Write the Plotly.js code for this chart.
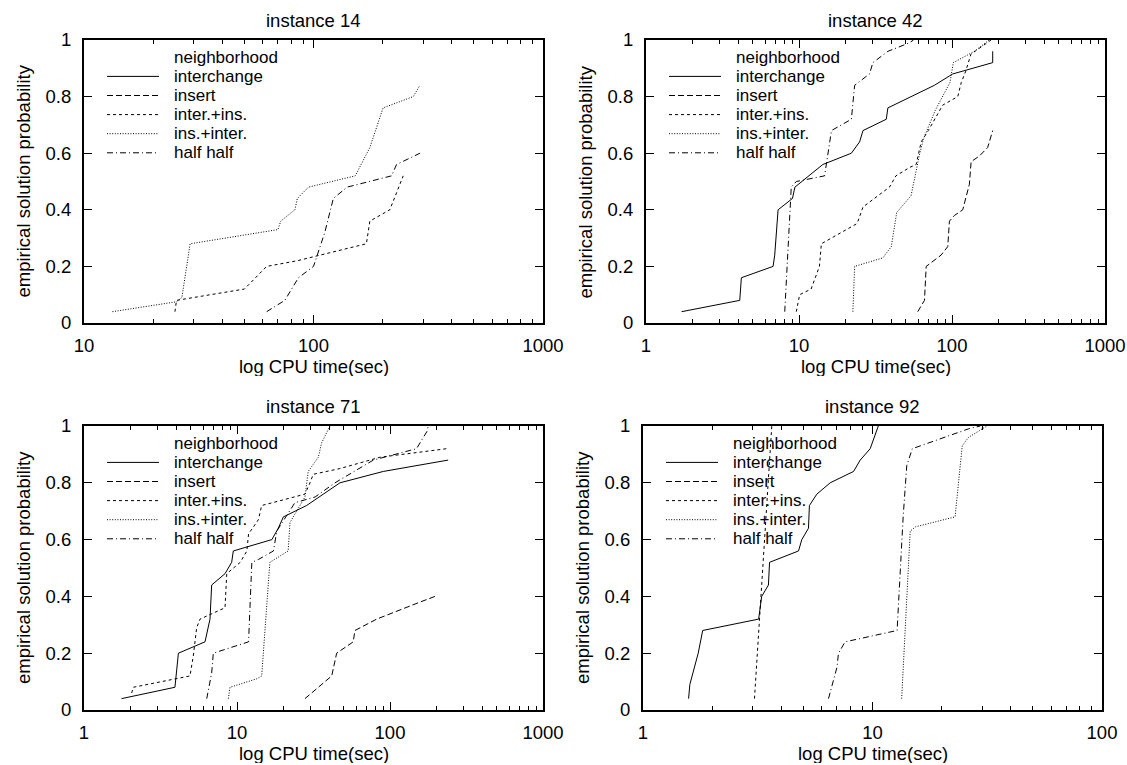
<!DOCTYPE html>
<html>
<head>
<meta charset="utf-8">
<script src="https://cdn.plot.ly/plotly-3.0.1.min.js"></script>
<style>html,body{margin:0;padding:0;background:#fff;}#chart{width:1127px;height:765px;}</style>
</head>
<body>
<div id="chart"></div>
<script>
// ---------- data ----------
const panelTitles = ['instance 14', 'instance 42', 'instance 71', 'instance 92'];
const legendHeader = 'neighborhood';
const seriesNames = ['interchange', 'insert', 'inter.+ins.', 'ins.+inter.', 'half half'];
const yTickVals = [0, 0.2, 0.4, 0.6, 0.8, 1];
const yTickText = ['0', '0.2', '0.4', '0.6', '0.8', '1'];
const xTicks14 = [10, 100, 1000];
const xTicks42 = [1, 10, 100, 1000];
const xTicks71 = [1, 10, 100, 1000];
const xTicks92 = [1, 10, 100];
const xTickText14 = ['10', '100', '1000'];
const xTickText42 = ['1', '10', '100', '1000'];
const xTickText71 = ['1', '10', '100', '1000'];
const xTickText92 = ['1', '10', '100'];
const yAxisTitle = 'empirical solution probability';
const xAxisTitle = 'log CPU time(sec)';

// instance 14
const i14_interIns_x = [24.9, 25.3, 50, 62.5, 85, 170, 176, 215, 230, 246];
const i14_interIns_y = [0.04, 0.08, 0.12, 0.20, 0.22, 0.28, 0.36, 0.40, 0.46, 0.52];
const i14_insInter_x = [13.3, 25.3, 26.7, 28, 29, 70, 72, 83, 85, 95, 152, 176, 201, 272, 291];
const i14_insInter_y = [0.04, 0.075, 0.09, 0.20, 0.28, 0.33, 0.36, 0.40, 0.44, 0.48, 0.52, 0.62, 0.76, 0.80, 0.84];
const i14_half_x = [62.5, 75, 86, 100, 112, 122, 140, 219, 230, 291];
const i14_half_y = [0.04, 0.08, 0.16, 0.20, 0.32, 0.44, 0.48, 0.52, 0.56, 0.60];

// instance 42
const i42_inter_x = [1.71, 4.1, 4.2, 6.77, 6.94, 7.3, 9.06, 9.4, 14.3, 22, 24.9, 26.2, 37.2, 38.1, 76.8, 101, 184.5, 184.5];
const i42_inter_y = [0.04, 0.08, 0.16, 0.20, 0.24, 0.40, 0.44, 0.48, 0.56, 0.60, 0.64, 0.68, 0.72, 0.76, 0.84, 0.88, 0.92, 0.96];
const i42_insert_x = [59.7, 66.1, 67.8, 84.9, 93.8, 96.2, 103.7, 117.5, 129.9, 133.3, 151, 171, 184.5];
const i42_insert_y = [0.04, 0.08, 0.20, 0.24, 0.27, 0.36, 0.38, 0.40, 0.49, 0.57, 0.59, 0.62, 0.68];
const i42_interIns_x = [9.6, 10.1, 12, 13.6, 14, 23.7, 24.3, 26.2, 39, 43, 53, 58.3, 62.9, 70, 87, 109, 115, 123, 133, 159, 180];
const i42_interIns_y = [0.04, 0.10, 0.12, 0.20, 0.28, 0.35, 0.36, 0.41, 0.48, 0.52, 0.55, 0.56, 0.64, 0.68, 0.77, 0.80, 0.85, 0.89, 0.95, 0.98, 1.0];
const i42_insInter_x = [22.5, 23.1, 35.3, 40.1, 43.5, 54, 61, 65, 77.5, 97, 102, 140, 175];
const i42_insInter_y = [0.04, 0.20, 0.23, 0.27, 0.39, 0.45, 0.59, 0.65, 0.75, 0.85, 0.92, 0.96, 1.0];
const i42_half_x = [8.07, 8.7, 8.9, 9.6, 14.7, 16.3, 22, 23.1, 28.9, 30.4, 38.1, 52.7, 56];
const i42_half_y = [0.04, 0.38, 0.48, 0.50, 0.52, 0.68, 0.72, 0.84, 0.88, 0.92, 0.96, 0.99, 1.0];

// instance 71
const i71_inter_x = [1.76, 3.93, 4.14, 6.18, 6.66, 6.83, 8.35, 9.23, 9.46, 16.9, 18.6, 20.1, 28.5, 47.1, 90.4, 240];
const i71_inter_y = [0.04, 0.08, 0.20, 0.24, 0.32, 0.44, 0.48, 0.52, 0.56, 0.60, 0.64, 0.68, 0.72, 0.80, 0.84, 0.88];
const i71_insert_x = [27.8, 41.6, 44.8, 57.5, 59, 81.8, 157, 197];
const i71_insert_y = [0.04, 0.12, 0.20, 0.24, 0.28, 0.32, 0.38, 0.40];
const i71_interIns_x = [2.05, 2.1, 4.93, 5.18, 5.45, 5.73, 8.35, 8.57, 10.5, 11.6, 11.9, 13.8, 14.5, 27.8, 30, 31.5, 47, 86, 234];
const i71_interIns_y = [0.06, 0.08, 0.12, 0.19, 0.29, 0.32, 0.36, 0.48, 0.52, 0.56, 0.62, 0.67, 0.72, 0.76, 0.80, 0.83, 0.85, 0.89, 0.92];
const i71_insInter_x = [8.78, 9.0, 13.5, 14.5, 16.4, 21.6, 22.2, 27.8, 29.2, 34, 35.7, 40.5];
const i71_insInter_y = [0.04, 0.08, 0.11, 0.12, 0.52, 0.56, 0.66, 0.75, 0.84, 0.89, 0.94, 1.0];
const i71_half_x = [6.34, 6.83, 7.0, 11.9, 12.5, 13.8, 17.3, 18.2, 23.9, 32.4, 43.7, 77.8, 149, 174, 178];
const i71_half_y = [0.04, 0.13, 0.20, 0.24, 0.52, 0.53, 0.56, 0.63, 0.73, 0.75, 0.80, 0.88, 0.92, 0.98, 1.0];

// instance 92
const i92_inter_x = [1.58, 1.6, 1.74, 1.82, 3.19, 3.29, 3.52, 3.56, 4.76, 4.92, 5.26, 5.31, 5.72, 6.54, 8.27, 8.84, 9.77, 10.6];
const i92_inter_y = [0.04, 0.09, 0.20, 0.28, 0.32, 0.40, 0.44, 0.52, 0.56, 0.60, 0.64, 0.72, 0.76, 0.80, 0.84, 0.88, 0.92, 1.0];
const i92_interIns_x = [3.06, 3.15, 3.25, 3.33, 3.45, 3.55, 3.64];
const i92_interIns_y = [0.04, 0.20, 0.36, 0.52, 0.72, 0.88, 1.0];
const i92_insInter_x = [13.4, 14.6, 15.4, 22.9, 24.6, 26.2, 31.5];
const i92_insInter_y = [0.04, 0.63, 0.645, 0.68, 0.93, 0.96, 1.0];
const i92_half_x = [6.43, 7.0, 7.11, 7.6, 12.8, 13.0, 13.6, 14.1, 14.9, 26.2, 29.5];
const i92_half_y = [0.04, 0.15, 0.20, 0.24, 0.28, 0.39, 0.68, 0.86, 0.92, 0.99, 1.0];

// ---------- styling ----------
const W = 1127, H = 765;
const FONT = 'Liberation Sans, Arial, Helvetica, sans-serif';
const FS = 18.5;
const LFS = 17;
const dashStyle = {
  'interchange': 'solid',
  'insert': '6px,3px',
  'inter.+ins.': '3px,3px',
  'ins.+inter.': '1px,1.6px',
  'half half': '6px,3px,1px,3px'
};

const panels = [
  {title: panelTitles[0], box: [84, 543, 40, 323], range: [1, 3], tv: xTicks14, tt: xTickText14,
   series: [['inter.+ins.', i14_interIns_x, i14_interIns_y], ['ins.+inter.', i14_insInter_x, i14_insInter_y], ['half half', i14_half_x, i14_half_y]]},
  {title: panelTitles[1], box: [646, 1105, 40, 323], range: [0, 3], tv: xTicks42, tt: xTickText42,
   series: [['interchange', i42_inter_x, i42_inter_y], ['insert', i42_insert_x, i42_insert_y], ['inter.+ins.', i42_interIns_x, i42_interIns_y], ['ins.+inter.', i42_insInter_x, i42_insInter_y], ['half half', i42_half_x, i42_half_y]]},
  {title: panelTitles[2], box: [84, 543, 426, 710], range: [0, 3], tv: xTicks71, tt: xTickText71,
   series: [['interchange', i71_inter_x, i71_inter_y], ['insert', i71_insert_x, i71_insert_y], ['inter.+ins.', i71_interIns_x, i71_interIns_y], ['ins.+inter.', i71_insInter_x, i71_insInter_y], ['half half', i71_half_x, i71_half_y]]},
  {title: panelTitles[3], box: [643, 1102, 426, 710], range: [0, 2], tv: xTicks92, tt: xTickText92,
   series: [['interchange', i92_inter_x, i92_inter_y], ['inter.+ins.', i92_interIns_x, i92_interIns_y], ['ins.+inter.', i92_insInter_x, i92_insInter_y], ['half half', i92_half_x, i92_half_y]]}
];

const traces = [];
const layout = {
  width: W, height: H, margin: {l: 0, r: 0, t: 0, b: 0},
  paper_bgcolor: '#fff', plot_bgcolor: '#fff', showlegend: false,
  font: {family: FONT, size: FS, color: '#000'},
  annotations: [], shapes: []
};

panels.forEach((p, i) => {
  const n = i + 1;
  const xa = 'x' + (n === 1 ? '' : n), ya = 'y' + (n === 1 ? '' : n);
  const xk = 'xaxis' + (n === 1 ? '' : n), yk = 'yaxis' + (n === 1 ? '' : n);
  const [L, R, T, B] = p.box;
  const minorVals = [];
  for (let d = p.range[0]; d < p.range[1]; d++) for (let k = 2; k <= 9; k++) minorVals.push(k * Math.pow(10, d));
  layout[xk] = {
    type: 'log', range: p.range, domain: [L / W, R / W], anchor: ya,
    tickmode: 'array', tickvals: p.tv, ticktext: p.tt,
    ticks: 'inside', ticklen: 8, tickwidth: 1, tickcolor: '#000',
    minor: {tickmode: 'array', tickvals: minorVals, ticks: 'inside', ticklen: 4, tickwidth: 1, tickcolor: '#000', showgrid: false},
    showline: true, linewidth: 2, linecolor: '#000', mirror: 'ticks',
    showgrid: false, zeroline: false, ticklabelstandoff: 5,
    tickfont: {family: FONT, size: FS, color: '#000'}
  };
  layout[yk] = {
    range: [0, 1], domain: [(H - B) / H, (H - T) / H], anchor: xa,
    tickmode: 'array', tickvals: yTickVals, ticktext: yTickText,
    ticks: 'inside', ticklen: 8, tickwidth: 1, tickcolor: '#000',
    showline: true, linewidth: 2, linecolor: '#000', mirror: 'ticks',
    showgrid: false, zeroline: false, ticklabelstandoff: 7,
    tickfont: {family: FONT, size: FS, color: '#000'}
  };
  p.series.forEach(s => {
    traces.push({
      type: 'scatter', mode: 'lines', name: s[0], x: s[1], y: s[2],
      xaxis: xa, yaxis: ya, hoverinfo: 'skip',
      line: {color: '#000', width: 1, dash: dashStyle[s[0]]}
    });
  });
  layout.annotations.push({xref: 'paper', yref: 'paper', x: (L + R) / 2 / W, y: (H - T) / H, yanchor: 'bottom', xanchor: 'center',
    yshift: 7, showarrow: false, text: p.title, font: {family: FONT, size: FS, color: '#000'}});
  layout.annotations.push({xref: 'paper', yref: 'paper', x: (L + R) / 2 / W, y: (H - (B + 43)) / H, xanchor: 'center', yanchor: 'middle',
    height: 20, showarrow: false, text: xAxisTitle, font: {family: FONT, size: FS, color: '#000'}});
  layout.annotations.push({xref: 'paper', yref: 'paper', x: (L - 61) / W, y: (H - (T + B) / 2) / H, xanchor: 'center', yanchor: 'middle',
    textangle: -90, showarrow: false, text: yAxisTitle, font: {family: FONT, size: FS, color: '#000'}});
  const rowY = k => T + 17.3 + 19.1 * k;
  layout.annotations.push({xref: 'paper', yref: 'paper', x: (L + 88) / W, y: (H - rowY(0)) / H, xanchor: 'left', yanchor: 'middle',
    height: 17, showarrow: false, text: legendHeader, font: {family: FONT, size: LFS, color: '#000'}});
  seriesNames.forEach((nm, k) => {
    const yy = (H - rowY(k + 1)) / H;
    layout.annotations.push({xref: 'paper', yref: 'paper', x: (L + 88) / W, y: yy, xanchor: 'left', yanchor: 'middle',
      height: 17, showarrow: false, text: nm, font: {family: FONT, size: LFS, color: '#000'}});
    layout.shapes.push({type: 'line', xref: 'paper', yref: 'paper', x0: (L + 23) / W, x1: (L + 75) / W, y0: yy, y1: yy,
      line: {color: '#000', width: 1, dash: dashStyle[nm]}});
  });
});

Plotly.newPlot('chart', traces, layout, {displayModeBar: false, staticPlot: true});
</script>
</body>
</html>
